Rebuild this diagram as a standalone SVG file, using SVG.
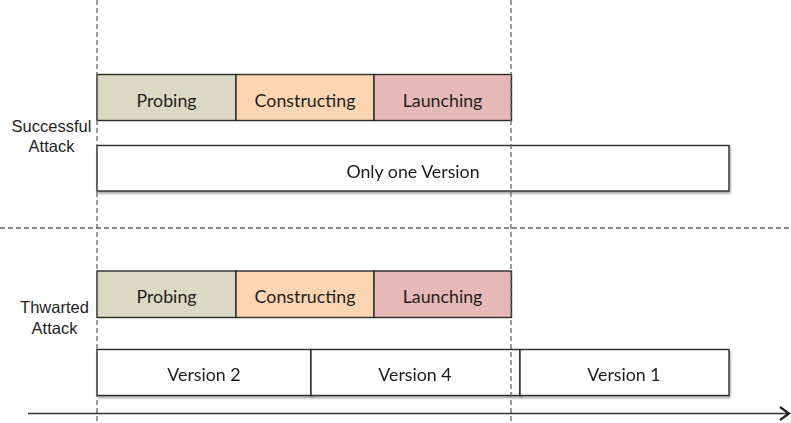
<svg xmlns="http://www.w3.org/2000/svg" width="791" height="423" viewBox="0 0 791 423">
  <style>
    .box { stroke: #2b2b2b; stroke-width: 1.4; }
    .probe { fill: #dcd9c2; }
    .build { fill: #fcd6b3; }
    .launch { fill: #e6b9b8; }
    .plain { fill: #ffffff; }
    .guide { stroke: #666; stroke-width: 1.3; stroke-dasharray: 5 3; fill: none; }
    .lbl { font-family: Lato, "Open Sans", "Liberation Sans", sans-serif; font-size: 17.8px; fill: #1e1e1e; text-anchor: middle; }
    .side { font-family: "Liberation Sans", Arial, sans-serif; font-size: 16.5px; fill: #1e1e1e; text-anchor: middle; }
    .axis { stroke: #333; stroke-width: 1.5; fill: none; }
  </style>
  <defs>
    <filter id="soft" x="-10%" y="-30%" width="120%" height="160%">
      <feGaussianBlur in="SourceAlpha" stdDeviation="1.2"/>
      <feOffset dx="1" dy="1.5" result="s"/>
      <feComponentTransfer><feFuncA type="linear" slope="0.35"/></feComponentTransfer>
      <feMerge><feMergeNode/><feMergeNode in="SourceGraphic"/></feMerge>
    </filter>
    <marker id="chev" markerWidth="14" markerHeight="16" refX="11" refY="8" orient="auto" markerUnits="userSpaceOnUse">
      <path d="M2,1.5 L11,8 L2,14.5" fill="none" stroke="#222" stroke-width="2.2"/>
    </marker>
  </defs>

  <!-- row labels -->
  <g id="label-successful">
    <text class="side" x="51.5" y="132">Successful</text>
    <text class="side" x="51.5" y="151.5">Attack</text>
  </g>
  <g id="label-thwarted">
    <text class="side" x="54.5" y="313">Thwarted</text>
    <text class="side" x="54.5" y="333.5">Attack</text>
  </g>

  <!-- successful attack: phases -->
  <g id="s-probing">
    <rect class="box probe" x="97" y="74.5" width="139" height="46"/>
    <text class="lbl" x="166.5" y="106.5">Probing</text>
  </g>
  <g id="s-constructing">
    <rect class="box build" x="236" y="74.5" width="138" height="46"/>
    <text class="lbl" x="305" y="106.5">Constructing</text>
  </g>
  <g id="s-launching">
    <rect class="box launch" x="374" y="74.5" width="137.5" height="46"/>
    <text class="lbl" x="442.5" y="106.5">Launching</text>
  </g>
  <g id="s-version" filter="url(#soft)">
    <rect class="box plain" x="97" y="145.5" width="632" height="45.5"/>
    <text class="lbl" x="413" y="177.5">Only one Version</text>
  </g>

  <!-- thwarted attack: phases -->
  <g id="t-probing">
    <rect class="box probe" x="97" y="271" width="139" height="46.5"/>
    <text class="lbl" x="166.5" y="303">Probing</text>
  </g>
  <g id="t-constructing">
    <rect class="box build" x="236" y="271" width="138" height="46.5"/>
    <text class="lbl" x="305" y="303">Constructing</text>
  </g>
  <g id="t-launching">
    <rect class="box launch" x="374" y="271" width="137.5" height="46.5"/>
    <text class="lbl" x="442.5" y="303">Launching</text>
  </g>

  <!-- thwarted attack: rotating versions -->
  <g id="t-version2" filter="url(#soft)">
    <rect class="box plain" x="97" y="349.5" width="214" height="46"/>
    <text class="lbl" x="204" y="381">Version 2</text>
  </g>
  <g id="t-version4" filter="url(#soft)">
    <rect class="box plain" x="311" y="349.5" width="209" height="46"/>
    <text class="lbl" x="415" y="381">Version 4</text>
  </g>
  <g id="t-version1" filter="url(#soft)">
    <rect class="box plain" x="520" y="349.5" width="209" height="46"/>
    <text class="lbl" x="624" y="381">Version 1</text>
  </g>

  <!-- guides and time axis -->
  <g id="connectors">
    <line class="guide" x1="97" y1="0" x2="97" y2="423"/>
    <line class="guide" x1="511" y1="0" x2="511" y2="423"/>
    <line class="guide" x1="0" y1="228" x2="791" y2="228"/>
    <line class="axis" x1="28" y1="413.5" x2="789" y2="413.5" marker-end="url(#chev)"/>
  </g>
</svg>
